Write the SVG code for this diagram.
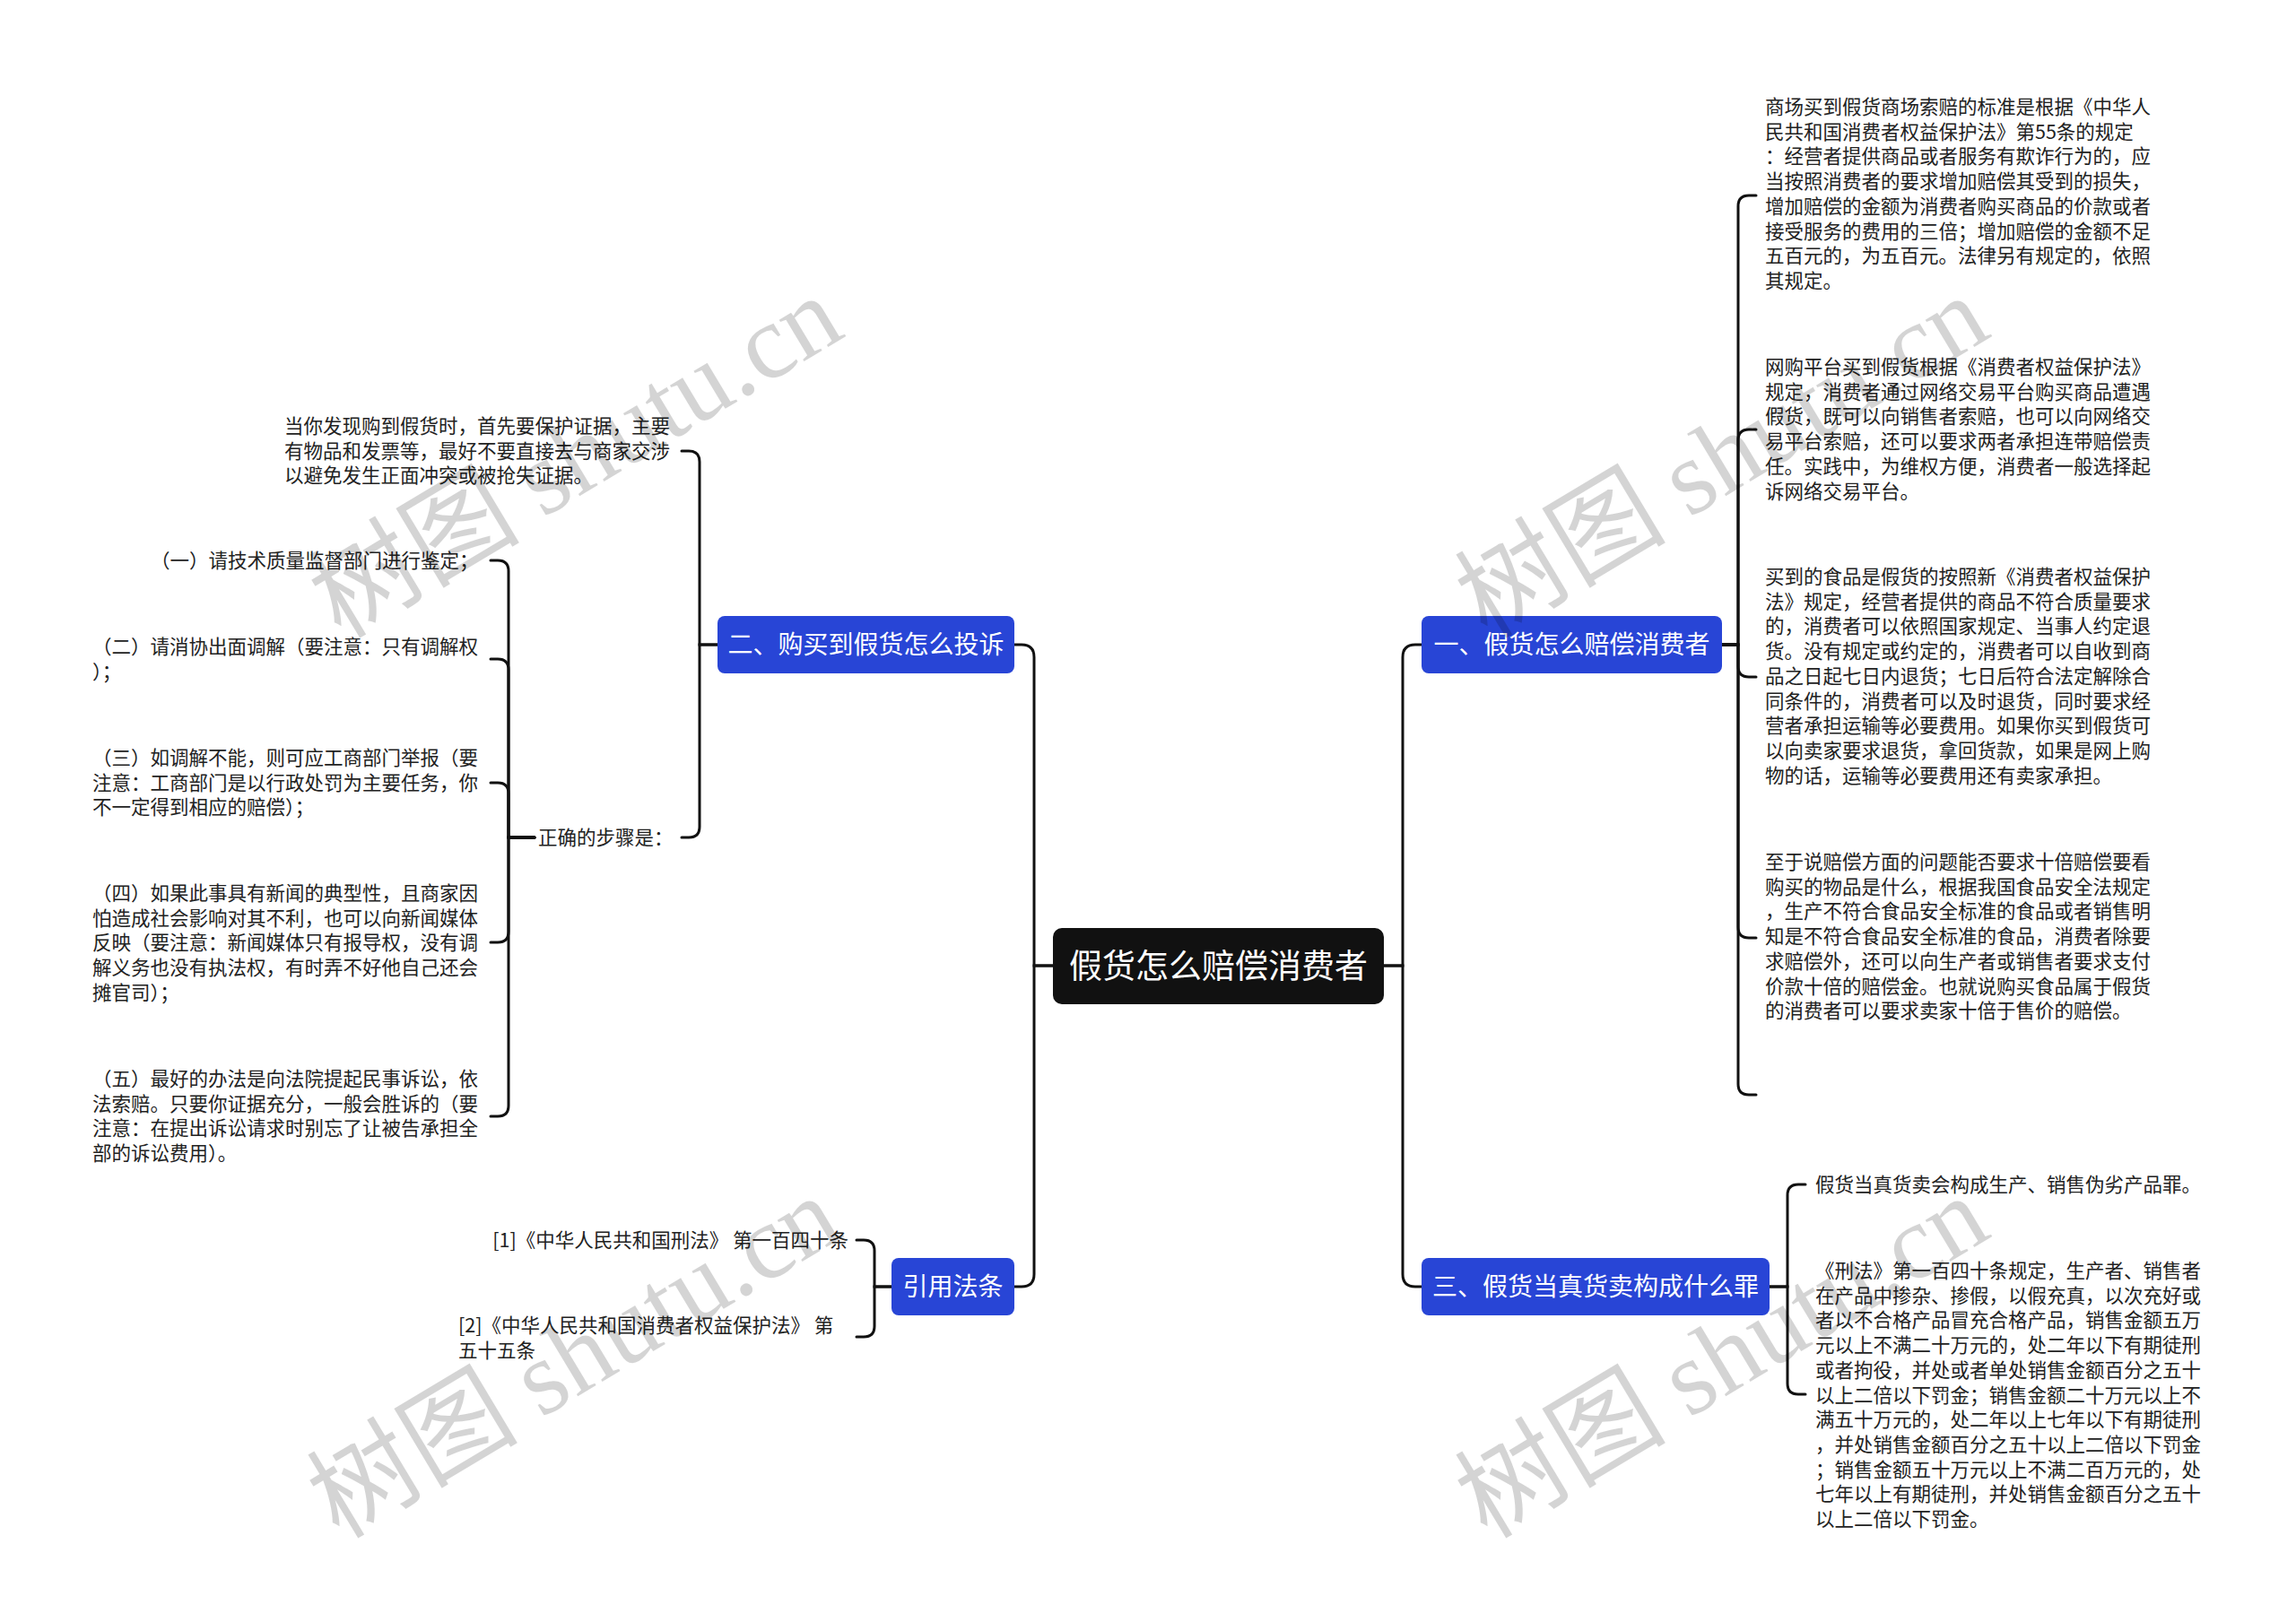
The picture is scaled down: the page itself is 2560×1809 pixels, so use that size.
<svg xmlns="http://www.w3.org/2000/svg" width="2560" height="1809" viewBox="0 0 2560 1809">
<style>
.bg{fill:#ffffff}
.conn path{fill:none;stroke:#111111;stroke-width:3;stroke-linecap:round}
.root rect{fill:#111111}
.root text{fill:#ffffff;font-family:"Noto Sans CJK SC",sans-serif;font-size:37px}
.main rect{fill:#2845d6}
.main text{fill:#ffffff;font-family:"Noto Sans CJK SC",sans-serif;font-size:28px}
.leaf text{fill:#222222;font-family:"Noto Sans CJK SC",sans-serif;font-size:21.5px}
.wm{fill:#000000;fill-opacity:0.17;font-size:118px}
.wm .cjk{font-family:"Noto Sans CJK SC",sans-serif}
.wm .lat{font-family:"Liberation Serif",serif}
</style>
<rect class="bg" x="0" y="0" width="2560" height="1809"/>

<g class="conn" id="connectors">
<path d="M1174,1077 H1153 V733 Q1153,719 1139,719 H1131"/>
<path d="M1174,1077 H1153 V1421 Q1153,1435 1139,1435 H1131"/>
<path d="M1543,1077 H1564 V733 Q1564,719 1578,719 H1585"/>
<path d="M1543,1077 H1564 V1421 Q1564,1435 1578,1435 H1585"/>
<path d="M1920,719 H1938 V230 Q1938,218 1950,218 H1958"/>
<path d="M1920,719 H1938 V491 Q1938,479 1950,479 H1958"/>
<path d="M1920,719 H1938 V743 Q1938,755 1950,755 H1958"/>
<path d="M1920,719 H1938 V1034 Q1938,1046 1950,1046 H1958"/>
<path d="M1920,719 H1938 V1209 Q1938,1221 1950,1221 H1958"/>
<path d="M1973,1435 H1993 V1333 Q1993,1321 2005,1321 H2013"/>
<path d="M1973,1435 H1993 V1543 Q1993,1555 2005,1555 H2013"/>
<path d="M800,719 H780 V515 Q780,503 768,503 H760"/>
<path d="M800,719 H780 V922 Q780,934 768,934 H760"/>
<path d="M596,934 H567 V637 Q567,625 555,625 H547"/>
<path d="M596,934 H567 V747 Q567,735 555,735 H547"/>
<path d="M596,934 H567 V885 Q567,873 555,873 H547"/>
<path d="M596,934 H567 V1039 Q567,1051 555,1051 H547"/>
<path d="M596,934 H567 V1233 Q567,1245 555,1245 H547"/>
<path d="M994,1435 H975 V1395 Q975,1383 963,1383 H955"/>
<path d="M994,1435 H975 V1479 Q975,1491 963,1491 H955"/>
</g>

<g class="root" id="root">
<rect x="1174" y="1035" width="369" height="85" rx="10"/>
<text x="1358.5" y="1091" text-anchor="middle">假货怎么赔偿消费者</text>
</g>

<g class="main" id="topic1">
<rect x="1585" y="687" width="335" height="64" rx="8"/>
<text x="1752.5" y="729" text-anchor="middle">一、假货怎么赔偿消费者</text>
</g>
<g class="main" id="topic2">
<rect x="800" y="687" width="331" height="64" rx="8"/>
<text x="965.5" y="729" text-anchor="middle">二、购买到假货怎么投诉</text>
</g>
<g class="main" id="topic3">
<rect x="1585" y="1403" width="388" height="64" rx="8"/>
<text x="1779" y="1445" text-anchor="middle">三、假货当真货卖构成什么罪</text>
</g>
<g class="main" id="topic4">
<rect x="994" y="1403" width="137" height="64" rx="8"/>
<text x="1062.5" y="1445" text-anchor="middle">引用法条</text>
</g>

<g class="leaf" id="leaf1-1">
<text x="1968" y="127">商场买到假货商场索赔的标准是根据《中华人</text>
<text x="1968" y="154.7">民共和国消费者权益保护法》第55条的规定</text>
<text x="1968" y="182.4">：经营者提供商品或者服务有欺诈行为的，应</text>
<text x="1968" y="210.1">当按照消费者的要求增加赔偿其受到的损失，</text>
<text x="1968" y="237.8">增加赔偿的金额为消费者购买商品的价款或者</text>
<text x="1968" y="265.5">接受服务的费用的三倍；增加赔偿的金额不足</text>
<text x="1968" y="293.2">五百元的，为五百元。法律另有规定的，依照</text>
<text x="1968" y="320.9">其规定。</text>
</g>
<g class="leaf" id="leaf1-2">
<text x="1968" y="417">网购平台买到假货根据《消费者权益保护法》</text>
<text x="1968" y="444.7">规定，消费者通过网络交易平台购买商品遭遇</text>
<text x="1968" y="472.4">假货，既可以向销售者索赔，也可以向网络交</text>
<text x="1968" y="500.1">易平台索赔，还可以要求两者承担连带赔偿责</text>
<text x="1968" y="527.8">任。实践中，为维权方便，消费者一般选择起</text>
<text x="1968" y="555.5">诉网络交易平台。</text>
</g>
<g class="leaf" id="leaf1-3">
<text x="1968" y="651">买到的食品是假货的按照新《消费者权益保护</text>
<text x="1968" y="678.7">法》规定，经营者提供的商品不符合质量要求</text>
<text x="1968" y="706.4">的，消费者可以依照国家规定、当事人约定退</text>
<text x="1968" y="734.1">货。没有规定或约定的，消费者可以自收到商</text>
<text x="1968" y="761.8">品之日起七日内退货；七日后符合法定解除合</text>
<text x="1968" y="789.5">同条件的，消费者可以及时退货，同时要求经</text>
<text x="1968" y="817.2">营者承担运输等必要费用。如果你买到假货可</text>
<text x="1968" y="844.9">以向卖家要求退货，拿回货款，如果是网上购</text>
<text x="1968" y="872.6">物的话，运输等必要费用还有卖家承担。</text>
</g>
<g class="leaf" id="leaf1-4">
<text x="1968" y="969">至于说赔偿方面的问题能否要求十倍赔偿要看</text>
<text x="1968" y="996.7">购买的物品是什么，根据我国食品安全法规定</text>
<text x="1968" y="1024.4">，生产不符合食品安全标准的食品或者销售明</text>
<text x="1968" y="1052.1">知是不符合食品安全标准的食品，消费者除要</text>
<text x="1968" y="1079.8">求赔偿外，还可以向生产者或销售者要求支付</text>
<text x="1968" y="1107.5">价款十倍的赔偿金。也就说购买食品属于假货</text>
<text x="1968" y="1135.2">的消费者可以要求卖家十倍于售价的赔偿。</text>
</g>

<g class="leaf" id="leaf3-1">
<text x="2024" y="1329">假货当真货卖会构成生产、销售伪劣产品罪。</text>
</g>
<g class="leaf" id="leaf3-2">
<text x="2024" y="1425">《刑法》第一百四十条规定，生产者、销售者</text>
<text x="2024" y="1452.7">在产品中掺杂、掺假，以假充真，以次充好或</text>
<text x="2024" y="1480.4">者以不合格产品冒充合格产品，销售金额五万</text>
<text x="2024" y="1508.1">元以上不满二十万元的，处二年以下有期徒刑</text>
<text x="2024" y="1535.8">或者拘役，并处或者单处销售金额百分之五十</text>
<text x="2024" y="1563.5">以上二倍以下罚金；销售金额二十万元以上不</text>
<text x="2024" y="1591.2">满五十万元的，处二年以上七年以下有期徒刑</text>
<text x="2024" y="1618.9">，并处销售金额百分之五十以上二倍以下罚金</text>
<text x="2024" y="1646.6">；销售金额五十万元以上不满二百万元的，处</text>
<text x="2024" y="1674.3">七年以上有期徒刑，并处销售金额百分之五十</text>
<text x="2024" y="1702">以上二倍以下罚金。</text>
</g>

<g class="leaf" id="leaf2-1">
<text x="317" y="483">当你发现购到假货时，首先要保护证据，主要</text>
<text x="317" y="510.7">有物品和发票等，最好不要直接去与商家交涉</text>
<text x="317" y="538.4">以避免发生正面冲突或被抢失证据。</text>
</g>
<g class="leaf" id="leaf2-2">
<text x="600" y="942">正确的步骤是：</text>
</g>
<g class="leaf" id="leaf2-2-1">
<text x="168" y="633">（一）请技术质量监督部门进行鉴定；</text>
</g>
<g class="leaf" id="leaf2-2-2">
<text x="103" y="729">（二）请消协出面调解（要注意：只有调解权</text>
<text x="103" y="756.7">）；</text>
</g>
<g class="leaf" id="leaf2-2-3">
<text x="103" y="853">（三）如调解不能，则可应工商部门举报（要</text>
<text x="103" y="880.7">注意：工商部门是以行政处罚为主要任务，你</text>
<text x="103" y="908.4">不一定得到相应的赔偿）；</text>
</g>
<g class="leaf" id="leaf2-2-4">
<text x="103" y="1004">（四）如果此事具有新闻的典型性，且商家因</text>
<text x="103" y="1031.7">怕造成社会影响对其不利，也可以向新闻媒体</text>
<text x="103" y="1059.4">反映（要注意：新闻媒体只有报导权，没有调</text>
<text x="103" y="1087.1">解义务也没有执法权，有时弄不好他自己还会</text>
<text x="103" y="1114.8">摊官司）；</text>
</g>
<g class="leaf" id="leaf2-2-5">
<text x="103" y="1211">（五）最好的办法是向法院提起民事诉讼，依</text>
<text x="103" y="1238.7">法索赔。只要你证据充分，一般会胜诉的（要</text>
<text x="103" y="1266.4">注意：在提出诉讼请求时别忘了让被告承担全</text>
<text x="103" y="1294.1">部的诉讼费用）。</text>
</g>

<g class="leaf" id="leaf4-1">
<text x="946" y="1391" text-anchor="end">[1]《中华人民共和国刑法》 第一百四十条</text>
</g>
<g class="leaf" id="leaf4-2">
<text x="511" y="1486">[2]《中华人民共和国消费者权益保护法》 第</text>
<text x="511" y="1513.7">五十五条</text>
</g>

<g id="watermarks">
<text class="wm" x="647" y="548" text-anchor="middle" transform="rotate(-31 647 518)"><tspan class="cjk">树图 </tspan><tspan class="lat">shutu.cn</tspan></text>
<text class="wm" x="1925" y="548" text-anchor="middle" transform="rotate(-31 1925 518)"><tspan class="cjk">树图 </tspan><tspan class="lat">shutu.cn</tspan></text>
<text class="wm" x="645" y="1552" text-anchor="middle" transform="rotate(-31 645 1522)"><tspan class="cjk">树图 </tspan><tspan class="lat">shutu.cn</tspan></text>
<text class="wm" x="1925" y="1552" text-anchor="middle" transform="rotate(-31 1925 1522)"><tspan class="cjk">树图 </tspan><tspan class="lat">shutu.cn</tspan></text>
</g>
</svg>
